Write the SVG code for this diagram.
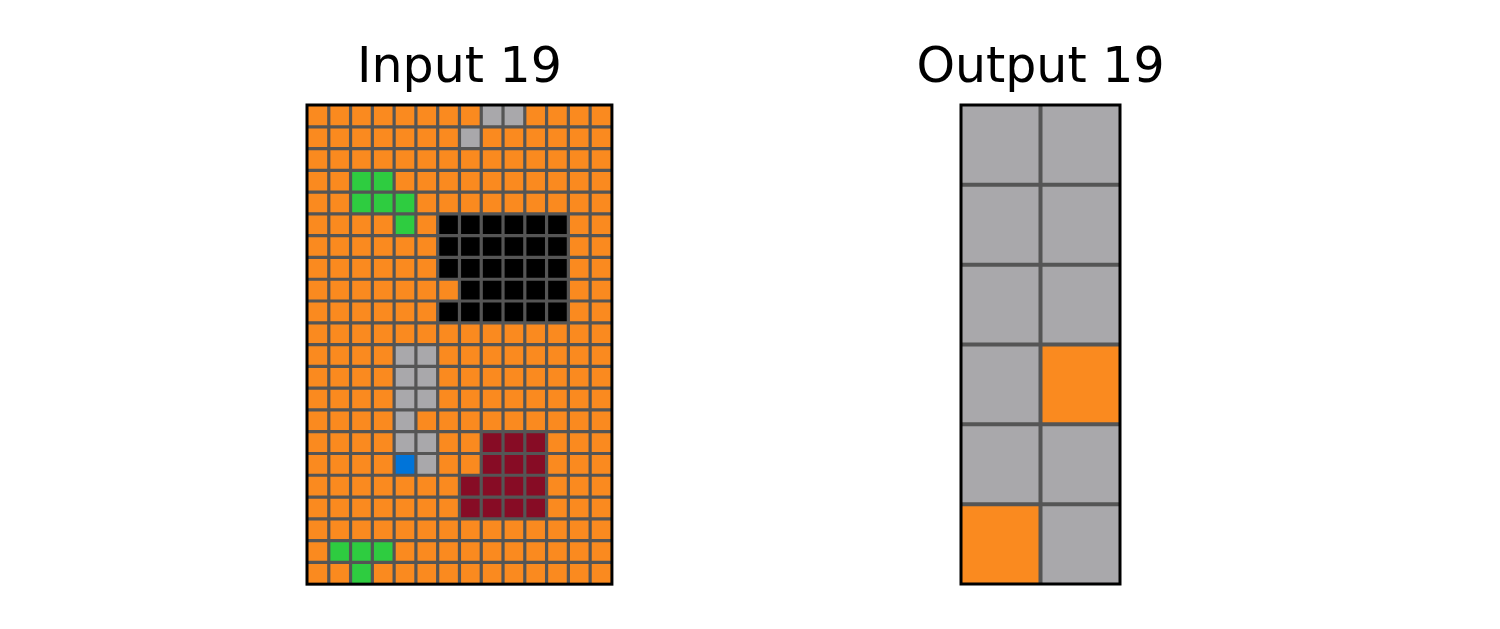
<svg xmlns="http://www.w3.org/2000/svg" width="1500" height="629" viewBox="0 0 1500 629">
<style>
.t{font-family:"DejaVu Sans",sans-serif;font-size:49px;fill:#000;text-anchor:middle}
.o{fill:#FA8A1F}.g{fill:#A9A8AB}.gr{fill:#2ECC40}.k{fill:#000}.m{fill:#870C25}.b{fill:#0074D9}
.gl{fill:none;stroke:#555555;stroke-width:3.2}
.gl2{fill:none;stroke:#555555;stroke-width:4}
.fr{fill:none;stroke:#000;stroke-width:3}
</style>
<rect width="1500" height="629" fill="#fff"/>
<g id="input-grid">
<text class="t" x="459.5" y="82">Input 19</text>
<rect class="o" x="307" y="105" width="304.92" height="479.16"/>
<rect class="g" x="481.24" y="105" width="43.56" height="21.78"/>
<rect class="g" x="459.46" y="126.78" width="21.78" height="21.78"/>
<rect class="gr" x="350.56" y="170.34" width="43.56" height="21.78"/>
<rect class="gr" x="350.56" y="192.12" width="65.34" height="21.78"/>
<rect class="gr" x="394.12" y="213.9" width="21.78" height="21.78"/>
<rect class="k" x="437.68" y="213.9" width="130.68" height="108.9"/>
<rect class="o" x="437.68" y="279.24" width="21.78" height="21.78"/>
<rect class="g" x="394.12" y="344.58" width="43.56" height="65.34"/>
<rect class="g" x="394.12" y="409.92" width="21.78" height="21.78"/>
<rect class="g" x="394.12" y="431.7" width="43.56" height="21.78"/>
<rect class="b" x="394.12" y="453.48" width="21.78" height="21.78"/>
<rect class="g" x="415.9" y="453.48" width="21.78" height="21.78"/>
<rect class="m" x="481.24" y="431.7" width="65.34" height="43.56"/>
<rect class="m" x="459.46" y="475.26" width="87.12" height="43.56"/>
<rect class="gr" x="328.78" y="540.6" width="65.34" height="21.78"/>
<rect class="gr" x="350.56" y="562.38" width="21.78" height="21.78"/>
<path class="gl" d="M328.78 105V584.16M350.56 105V584.16M372.34 105V584.16M394.12 105V584.16M415.9 105V584.16M437.68 105V584.16M459.46 105V584.16M481.24 105V584.16M503.02 105V584.16M524.8 105V584.16M546.58 105V584.16M568.36 105V584.16M590.14 105V584.16
M307 126.78H611.92M307 148.56H611.92M307 170.34H611.92M307 192.12H611.92M307 213.9H611.92M307 235.68H611.92M307 257.46H611.92M307 279.24H611.92M307 301.02H611.92M307 322.8H611.92M307 344.58H611.92M307 366.36H611.92M307 388.14H611.92M307 409.92H611.92M307 431.7H611.92M307 453.48H611.92M307 475.26H611.92M307 497.04H611.92M307 518.82H611.92M307 540.6H611.92M307 562.38H611.92"/>
<rect class="fr" x="307" y="105" width="304.92" height="479.16"/>
</g>
<g id="output-grid">
<text class="t" x="1040.5" y="82">Output 19</text>
<rect class="g" x="961" y="105" width="159" height="479"/>
<rect class="o" x="1040.5" y="344.5" width="79.5" height="79.83"/>
<rect class="o" x="961" y="504.17" width="79.5" height="79.83"/>
<path class="gl2" d="M1040.5 105V584M961 184.83H1120M961 264.67H1120M961 344.5H1120M961 424.33H1120M961 504.17H1120"/>
<rect class="fr" x="961" y="105" width="159" height="479"/>
</g>
</svg>
